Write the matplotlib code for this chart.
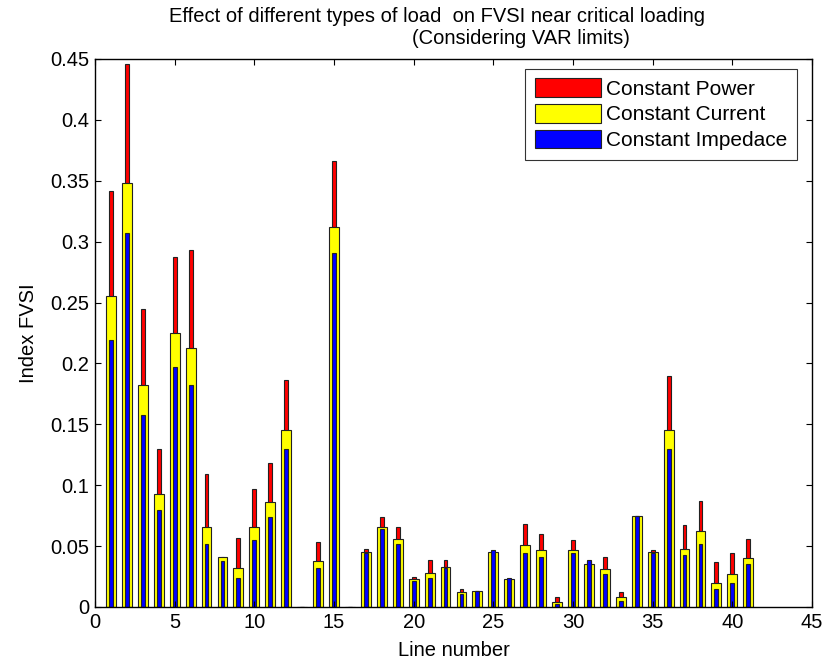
import numpy as np
import matplotlib
matplotlib.use("Agg")
import matplotlib.pyplot as plt

plt.rcParams['font.family'] = ['Liberation Sans', 'DejaVu Sans']

# line numbers 1..41
lines = np.arange(1, 42)
const_power = [0.342, 0.446, 0.245, 0.130, 0.287, 0.293, 0.109, 0.041, 0.057, 0.097,
               0.118, 0.186, 0.0, 0.053, 0.366, 0.0, 0.048, 0.074, 0.066, 0.025,
               0.039, 0.039, 0.015, 0.013, 0.045, 0.023, 0.068, 0.060, 0.008, 0.055,
               0.038, 0.041, 0.012, 0.075, 0.047, 0.190, 0.067, 0.087, 0.037, 0.044,
               0.056]
const_current = [0.255, 0.348, 0.182, 0.093, 0.225, 0.213, 0.066, 0.041, 0.032, 0.066,
                 0.086, 0.145, 0.0, 0.038, 0.312, 0.0, 0.045, 0.066, 0.056, 0.023,
                 0.028, 0.033, 0.012, 0.013, 0.045, 0.023, 0.051, 0.047, 0.004, 0.047,
                 0.035, 0.031, 0.008, 0.075, 0.0455, 0.145, 0.048, 0.062, 0.020, 0.027,
                 0.040]
const_impedance = [0.219, 0.307, 0.158, 0.080, 0.197, 0.182, 0.052, 0.038, 0.024, 0.055,
                   0.074, 0.130, 0.0, 0.032, 0.291, 0.0, 0.044, 0.064, 0.052, 0.0215,
                   0.024, 0.032, 0.011, 0.013, 0.047, 0.024, 0.044, 0.041, 0.0025, 0.044,
                   0.039, 0.027, 0.005, 0.075, 0.044, 0.130, 0.043, 0.052, 0.015, 0.020,
                   0.035]

yticks = [0, 0.05, 0.1, 0.15, 0.2, 0.25, 0.3, 0.35, 0.4, 0.45]
ytick_labels = ['0', '0.05', '0.1', '0.15', '0.2', '0.25', '0.3', '0.35', '0.4', '0.45']
xticks = [0, 5, 10, 15, 20, 25, 30, 35, 40, 45]

fs = 14.5

fig = plt.figure(figsize=(8.26, 6.66), dpi=100)
ax = fig.add_axes([95/826, 1 - 607/666, 717/826, 548/666])

edge = dict(edgecolor='#222222', linewidth=0.8)
ax.bar(lines, const_power, width=0.24, color='#ff0000', label='Constant Power', **edge)
ax.bar(lines, const_current, width=0.62, color='#ffff00', label='Constant Current', **edge)
ax.bar(lines, const_impedance, width=0.24, color='#0000ff', label='Constant Impedace', **edge)

ax.set_xlim(0, 45)
ax.set_ylim(0, 0.45)
ax.set_xticks(xticks)
ax.set_yticks(yticks)
ax.set_yticklabels(ytick_labels)
ax.tick_params(direction='in', top=True, right=True, length=4, labelsize=fs, width=0.8, pad=4)
for s in ax.spines.values():
    s.set_linewidth(1.0)

ax.set_xlabel('Line number', fontsize=fs, labelpad=7)
ax.set_ylabel('Index FVSI', fontsize=fs, labelpad=9)

fig.text(437/826, 1 - 16/666, 'Effect of different types of load  on FVSI near critical loading',
         ha='center', va='center', fontsize=fs)
fig.text(521/826, 1 - 38/666, '(Considering VAR limits)', ha='center', va='center', fontsize=fs)

leg = ax.legend(loc='upper right', fontsize=15, frameon=True, fancybox=False, edgecolor='black',
                handlelength=3.2, handleheight=1.0, borderpad=0.45, labelspacing=0.25,
                handletextpad=0.25, borderaxespad=0)
leg.set_bbox_to_anchor((797/826, 1 - 69/666), transform=fig.transFigure)
leg.get_frame().set_linewidth(0.8)

fig.savefig('out.png', dpi=100)
